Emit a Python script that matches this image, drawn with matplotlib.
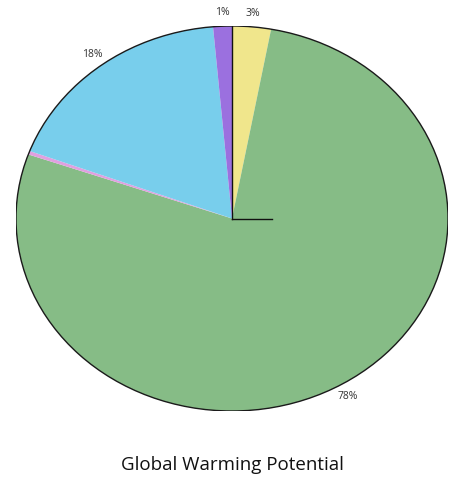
import matplotlib
matplotlib.use("Agg")
import matplotlib.pyplot as plt
from matplotlib.patches import Ellipse

# slices, clockwise from the top
names = ['A', 'B', 'C', 'D', 'E']
values = [2.9, 77.5, 0.3, 17.9, 1.4]
labels = ['3%', '78%', '', '18%', '1%']
colors = ['#F0E68C', '#86BC86', '#E0A0E0', '#78CEEC', '#9B70DF']

fig = plt.figure(figsize=(4.58, 4.78), dpi=100)
ax = fig.add_axes([16/458, 1 - 411/478, 432/458, 385/478])

wedges, texts = ax.pie(values, labels=labels, colors=colors, startangle=90,
                       counterclock=False, labeldistance=1.07,
                       wedgeprops={'linewidth': 0},
                       textprops={'fontsize': 7.5, 'color': '#333333', 'family': 'Open Sans'})
for t in texts:
    t.set_ha('center')
    t.set_va('center')
ax.set_aspect('auto')
ax.set_xlim(-1, 1)
ax.set_ylim(-1, 1)

# outline of the pie
ax.add_patch(Ellipse((0, 0), 2, 2, fill=False, edgecolor='#1a1a1a', linewidth=1))

# odd little axis lines from the centre
ax.plot([0, 0], [0, 1], color='#111111', linewidth=1)
ax.plot([0, 0.185], [0, 0], color='#111111', linewidth=1)

ax.axis('off')

fig.text(232/458, 1 - 465/478, 'Global Warming Potential', ha='center', va='center',
         fontsize=13.5, family='Open Sans', color='#111111')

fig.savefig('out.png', dpi=100)
plt.close()
